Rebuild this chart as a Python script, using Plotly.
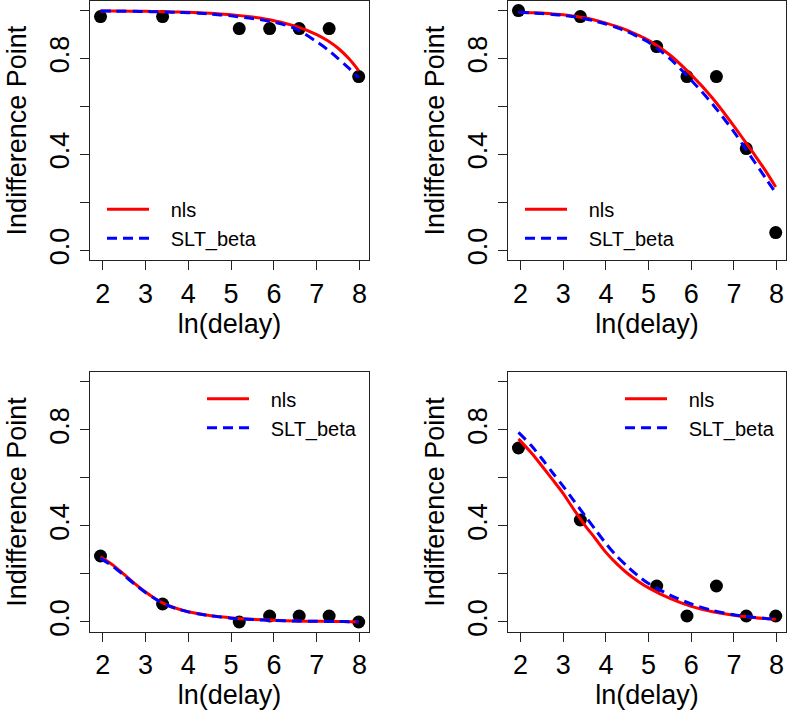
import plotly.graph_objects as go

# ---------------- data ----------------
ln_delay = [1.95, 3.40, 5.19, 5.90, 6.59, 7.29, 7.98]

points = [
    [0.975, 0.975, 0.925, 0.925, 0.925, 0.925, 0.725],
    [1.000, 0.975, 0.850, 0.725, 0.725, 0.425, 0.075],
    [0.275, 0.075, 0.000, 0.025, 0.025, 0.025, 0.000],
    [0.725, 0.425, 0.150, 0.025, 0.150, 0.025, 0.025],
]

curve_x = [1.95, 2.25, 2.5, 2.75, 3.0, 3.25, 3.5, 3.75, 4.0, 4.25, 4.5,
           4.75, 5.0, 5.5, 6.0, 6.5, 7.0, 7.25, 7.5, 7.75, 7.98]

nls_fit = [
    [0.998, 0.998, 0.998, 0.997, 0.997, 0.996, 0.995, 0.994, 0.993, 0.991, 0.989,
     0.986, 0.983, 0.973, 0.958, 0.935, 0.900, 0.875, 0.843, 0.800, 0.750],
    [0.993, 0.991, 0.990, 0.986, 0.983, 0.977, 0.970, 0.960, 0.948, 0.934, 0.918,
     0.898, 0.876, 0.815, 0.732, 0.635, 0.519, 0.457, 0.395, 0.330, 0.265],
    [0.272, 0.236, 0.198, 0.160, 0.125, 0.095, 0.071, 0.055, 0.043, 0.034, 0.027,
     0.022, 0.017, 0.011, 0.007, 0.004, 0.003, 0.0025, 0.002, 0.0015, 0.001],
    [0.763, 0.705, 0.650, 0.593, 0.535, 0.468, 0.405, 0.348, 0.290, 0.243, 0.203,
     0.170, 0.142, 0.098, 0.065, 0.043, 0.028, 0.023, 0.018, 0.014, 0.011],
]
slt_beta_fit = [
    [0.998, 0.998, 0.997, 0.997, 0.996, 0.995, 0.994, 0.993, 0.991, 0.989, 0.986,
     0.982, 0.978, 0.967, 0.952, 0.925, 0.870, 0.838, 0.800, 0.760, 0.720],
    [0.993, 0.990, 0.988, 0.984, 0.980, 0.974, 0.966, 0.956, 0.944, 0.929, 0.912,
     0.891, 0.868, 0.800, 0.710, 0.610, 0.495, 0.430, 0.365, 0.300, 0.240],
    [0.265, 0.230, 0.194, 0.157, 0.123, 0.094, 0.070, 0.054, 0.042, 0.033, 0.026,
     0.021, 0.016, 0.010, 0.006, 0.004, 0.003, 0.0025, 0.002, 0.0015, 0.001],
    [0.790, 0.735, 0.680, 0.622, 0.565, 0.505, 0.445, 0.385, 0.327, 0.275, 0.232,
     0.193, 0.160, 0.112, 0.075, 0.048, 0.030, 0.024, 0.019, 0.015, 0.012],
]

series_names = ["nls", "SLT_beta"]
x_ticks = [2, 3, 4, 5, 6, 7, 8]
y_ticks = [0.0, 0.2, 0.4, 0.6, 0.8, 1.0]
y_ticktext = ["0.0", "", "0.4", "", "0.8", ""]
x_title = "ln(delay)"
y_title = "Indifference Point"

# ---------------- layout geometry ----------------
W, H = 788, 720
FONT = "Liberation Sans, Arial, sans-serif"
PAD = "\u00a0\u00a0\u00a0"

# panel boxes in pixels: (left, right, top, bottom)
boxes = [
    (90, 369, 1, 262),
    (508, 786, 1, 262),
    (90, 369, 375, 636),
    (508, 786, 375, 636),
]
# legend anchors (pixels, left/top)
legend_pos = [
    (102, 191),
    (520, 191),
    (202, 382),
    (620, 382),
]

fig = go.Figure()

for i in range(4):
    ax = "" if i == 0 else str(i + 1)
    leg = "legend" if i == 0 else "legend" + str(i + 1)
    fig.add_trace(go.Scatter(
        x=ln_delay, y=points[i], mode="markers",
        marker=dict(color="black", size=13, line=dict(width=0)),
        showlegend=False, xaxis="x" + ax, yaxis="y" + ax,
    ))
    fig.add_trace(go.Scatter(
        x=curve_x, y=nls_fit[i], mode="lines", name=PAD + series_names[0],
        line=dict(color="#FF0000", width=3, shape="spline", smoothing=0.8),
        legend=leg, xaxis="x" + ax, yaxis="y" + ax,
    ))
    fig.add_trace(go.Scatter(
        x=curve_x, y=slt_beta_fit[i], mode="lines", name=PAD + series_names[1],
        line=dict(color="#0000FF", width=3, shape="spline", smoothing=0.8,
                  dash="10px,6px"),
        legend=leg, xaxis="x" + ax, yaxis="y" + ax,
    ))

layout = dict(
    width=W, height=H,
    margin=dict(l=0, r=0, t=0, b=0),
    paper_bgcolor="white", plot_bgcolor="white",
    font=dict(family=FONT, color="black"),
)

for i, (l, r, t, b) in enumerate(boxes):
    ax = "" if i == 0 else str(i + 1)
    layout["xaxis" + ax] = dict(
        domain=[l / W, r / W], range=[1.7046, 8.2206],
        anchor="y" + ax, showgrid=False, zeroline=False,
        showline=True, mirror=True, linecolor="#222", linewidth=1,
        ticks="outside", ticklen=9, tickwidth=1, tickcolor="#222",
        tickvals=x_ticks, tickfont=dict(size=27, family=FONT, color="black"),
        title=dict(text=x_title, font=dict(size=27, family=FONT, color="black"), standoff=5),
    )
    layout["yaxis" + ax] = dict(
        domain=[1 - b / H, 1 - t / H], range=[-0.04, 1.04],
        anchor="x" + ax, showgrid=False, zeroline=False,
        showline=True, mirror=True, linecolor="#222", linewidth=1,
        ticks="outside", ticklen=9, tickwidth=1, tickcolor="#222",
        tickvals=y_ticks, ticktext=y_ticktext, tickangle=-90,
        tickfont=dict(size=27, family=FONT, color="black"),
        title=dict(text=y_title, font=dict(size=27, family=FONT, color="black"), standoff=10),
    )

for i, (lx, ly) in enumerate(legend_pos):
    key = "legend" if i == 0 else "legend" + str(i + 1)
    layout[key] = dict(
        x=lx / W, y=1 - ly / H, xanchor="left", yanchor="top",
        bgcolor="rgba(0,0,0,0)", borderwidth=0,
        font=dict(size=20, family=FONT, color="black"),
        itemwidth=42, tracegroupgap=0,
    )

fig.update_layout(**layout)
fig.write_html("out.html")
